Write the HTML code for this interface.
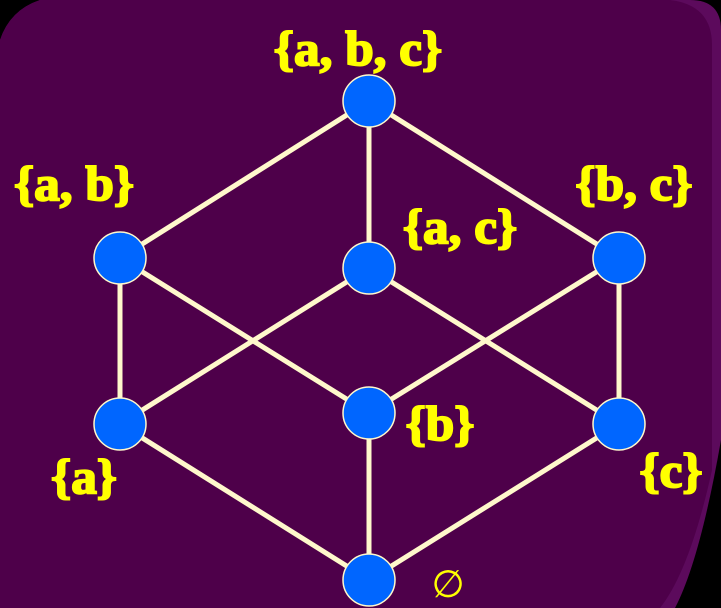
<!DOCTYPE html>
<html><head><meta charset="utf-8"><style>
html,body{margin:0;padding:0;background:#000;}
svg{display:block;}
text{font-family:"Liberation Serif",serif;font-weight:bold;fill:#ffff00;}
</style></head><body>
<svg width="721" height="608" viewBox="0 0 721 608" xmlns="http://www.w3.org/2000/svg">
<path d="M40 0 H690 Q721 0 721 30 V440 Q700 560 675 608 H0 V40 Q10 10 40 0 Z" fill="#5c0a5c"/>
<path d="M40 0 H670 Q712 5 712 45 V470 Q690 570 660 608 H0 V40 Q10 10 40 0 Z" fill="#4e004a"/>
<g id="edges"></g>
<g id="nodes"></g>
<g id="labels"></g>
</svg>
<script>
const nodeIds = ["abc","ab","ac","bc","a","b","c","e"];
const nodeX = [369,120,369,619,120,369,619,369];
const nodeY = [101,258,268,258,424,413,424,580];
const edgeFrom = ["abc","abc","abc","ab","ab","ac","ac","bc","bc","a","b","c"];
const edgeTo   = ["ab","ac","bc","a","b","a","c","b","c","e","e","e"];
const labelText = ["{a, b, c}","{a, b}","{a, c}","{b, c}","{a}","{b}","{c}","∅"];
const labelX = [358,74,460,634,84,440,671,448];
const labelY = [65,200,243,200,493,440,487,597];
const NS="http://www.w3.org/2000/svg";
const eg=document.getElementById('edges'), ng=document.getElementById('nodes'), lg=document.getElementById('labels');
function idx(id){return nodeIds.indexOf(id);}
for(let i=0;i<edgeFrom.length;i++){
  const a=idx(edgeFrom[i]), b=idx(edgeTo[i]);
  const l=document.createElementNS(NS,'line');
  l.setAttribute('x1',nodeX[a]);l.setAttribute('y1',nodeY[a]);
  l.setAttribute('x2',nodeX[b]);l.setAttribute('y2',nodeY[b]);
  l.setAttribute('stroke','#fff8cc');l.setAttribute('stroke-width','5');
  
  
  eg.appendChild(l);
}
for(let i=0;i<nodeIds.length;i++){
  const c=document.createElementNS(NS,'circle');
  c.setAttribute('cx',nodeX[i]);c.setAttribute('cy',nodeY[i]);c.setAttribute('r','26');
  c.setAttribute('fill','#0066ff');c.setAttribute('stroke','#fff8cc');c.setAttribute('stroke-width','1.5');
  
  
  ng.appendChild(c);
  const t=document.createElementNS(NS,'text');
  t.setAttribute('text-anchor','middle');
  if(nodeIds[i]==='e'){
    t.setAttribute('x',labelX[i]);t.setAttribute('y',labelY[i]);
    t.setAttribute('font-size','38');t.setAttribute('style','font-family:"DejaVu Sans",sans-serif;font-weight:normal');
  } else {
    t.setAttribute('x',0);t.setAttribute('y',0);
    t.setAttribute('transform','translate('+labelX[i]+','+labelY[i]+') scale(1.25,1.2)');
    t.setAttribute('font-size','41');
    t.setAttribute('stroke','#ffff00');t.setAttribute('stroke-width','1.6');
  }
  t.textContent=labelText[i];
  
  
  lg.appendChild(t);
}
</script>
</body></html>
